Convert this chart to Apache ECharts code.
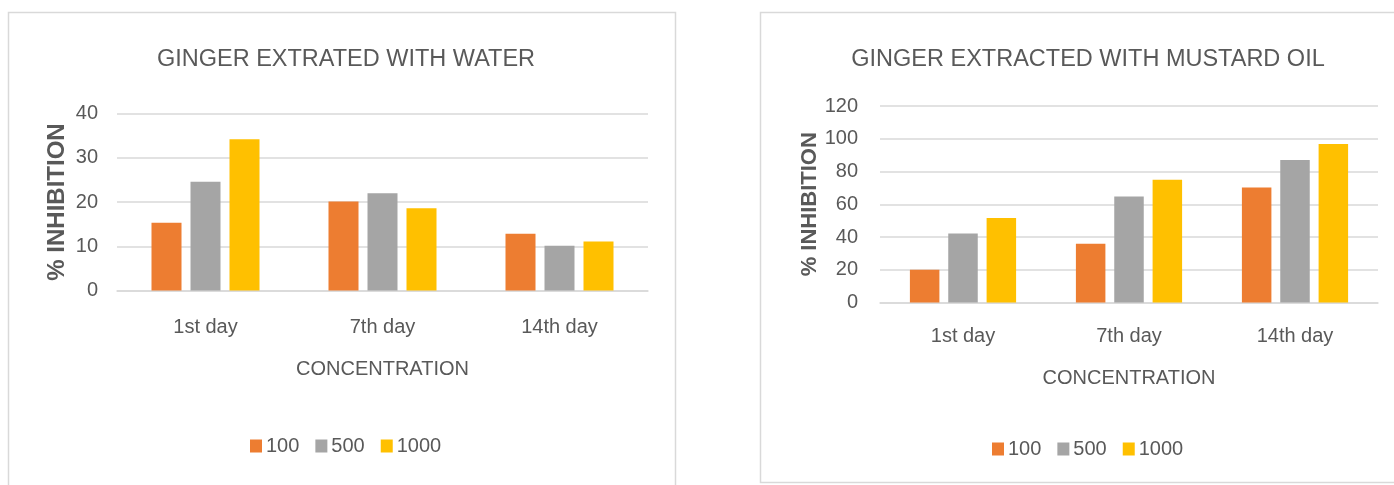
<!DOCTYPE html>
<html>
<head>
<meta charset="utf-8">
<script src="https://cdn.jsdelivr.net/npm/echarts@6/dist/echarts.min.js"></script>
<style>
  html, body { margin: 0; padding: 0; background: #ffffff; }
  #chart { width: 1394px; height: 485px; }
</style>
</head>
<body>
<div id="chart"></div>
<script>
// Days of measurement (x categories)
const days = ['1st day', '7th day', '14th day'];
// Concentration series names
const concentrations = ['100', '500', '1000'];

// % inhibition, ginger extracted with water
const water100 = [15.3, 20.1, 12.8];
const water500 = [24.6, 22.0, 10.1];
const water1000 = [34.2, 18.6, 11.1];

// % inhibition, ginger extracted with mustard oil
const oil100 = [20.0, 35.9, 70.2];
const oil500 = [42.2, 64.7, 87.0];
const oil1000 = [51.6, 74.9, 96.8];

// Axis ticks
const waterTicks = { min: 0, max: 40, interval: 10 };
const oilTicks = { min: 0, max: 120, interval: 20 };

const colors = ['#ED7D31', '#A5A5A5', '#FFC000'];
const textColor = '#595959';
const gridColor = '#D9D9D9';
const font = '"Liberation Sans", sans-serif';

const chart = echarts.init(document.getElementById('chart'), null, { renderer: 'canvas' });

function xAxisFor(gridIndex, labelMargin, nameGap) {
  return {
    type: 'category',
    gridIndex: gridIndex,
    data: days,
    axisLine: { show: true, lineStyle: { color: gridColor, width: 1.5 } },
    axisTick: { show: false },
    axisLabel: { color: textColor, fontSize: 20, fontFamily: font, margin: labelMargin },
    name: 'CONCENTRATION',
    nameLocation: 'middle',
    nameGap: nameGap,
    nameTextStyle: { color: textColor, fontSize: 20, fontFamily: font }
  };
}

function yAxisFor(gridIndex, ticks, nameGap, labelMargin, nameSize) {
  return {
    type: 'value',
    gridIndex: gridIndex,
    min: ticks.min,
    max: ticks.max,
    interval: ticks.interval,
    axisLine: { show: false },
    axisTick: { show: false },
    splitLine: { show: true, lineStyle: { color: gridColor, width: 1.5 } },
    axisLabel: { color: textColor, fontSize: 20, fontFamily: font, margin: labelMargin },
    name: '% INHIBITION',
    nameLocation: 'middle',
    nameGap: nameGap,
    nameRotate: 90,
    nameTextStyle: { color: textColor, fontSize: nameSize, fontWeight: 'bold', fontFamily: font }
  };
}

function barSeries(name, data, idx, axisIndex, width) {
  return {
    type: 'bar',
    name: name,
    data: data,
    xAxisIndex: axisIndex,
    yAxisIndex: axisIndex,
    barWidth: width,
    barGap: '30%',
    itemStyle: { color: colors[idx] },
    emphasis: { disabled: true }
  };
}

const legendBase = {
  data: concentrations,
  padding: 0,
  itemWidth: 12,
  itemHeight: 13,
  itemGap: 16,
  icon: 'rect',
  textStyle: { color: textColor, fontSize: 20, fontFamily: font, padding: [0, 0, 0, -1] }
};

chart.setOption({
  animation: false,
  backgroundColor: '#ffffff',
  graphic: [
    { type: 'rect', shape: { x: 8.5, y: 12.5, width: 667, height: 480 },
      style: { fill: 'none', stroke: '#D9D9D9', lineWidth: 1.5 }, silent: true },
    { type: 'rect', shape: { x: 760.5, y: 12.5, width: 700, height: 470 },
      style: { fill: 'none', stroke: '#D9D9D9', lineWidth: 1.5 }, silent: true }
  ],
  title: [
    { text: 'GINGER EXTRATED WITH WATER', left: 341, top: 43, textAlign: 'center',
      textStyle: { color: textColor, fontSize: 23.5, fontWeight: 'normal', fontFamily: font } },
    { text: 'GINGER EXTRACTED WITH MUSTARD OIL', left: 1083, top: 43, textAlign: 'center',
      textStyle: { color: textColor, fontSize: 23.5, fontWeight: 'normal', fontFamily: font } }
  ],
  legend: [
    Object.assign({}, legendBase, { left: 250, top: 436 }),
    Object.assign({}, legendBase, { left: 992, top: 439 })
  ],
  grid: [
    { left: 117, top: 113.5, width: 531, height: 177 },
    { left: 880, top: 106, width: 498, height: 196.5 }
  ],
  xAxis: [xAxisFor(0, 27, 69), xAxisFor(1, 24, 66)],
  yAxis: [yAxisFor(0, waterTicks, 48, 19, 24), yAxisFor(1, oilTicks, 46, 22, 22)],
  series: [
    barSeries(concentrations[0], water100, 0, 0, 30),
    barSeries(concentrations[1], water500, 1, 0, 30),
    barSeries(concentrations[2], water1000, 2, 0, 30),
    barSeries(concentrations[0], oil100, 0, 1, 29.5),
    barSeries(concentrations[1], oil500, 1, 1, 29.5),
    barSeries(concentrations[2], oil1000, 2, 1, 29.5)
  ]
});
</script>
</body>
</html>
